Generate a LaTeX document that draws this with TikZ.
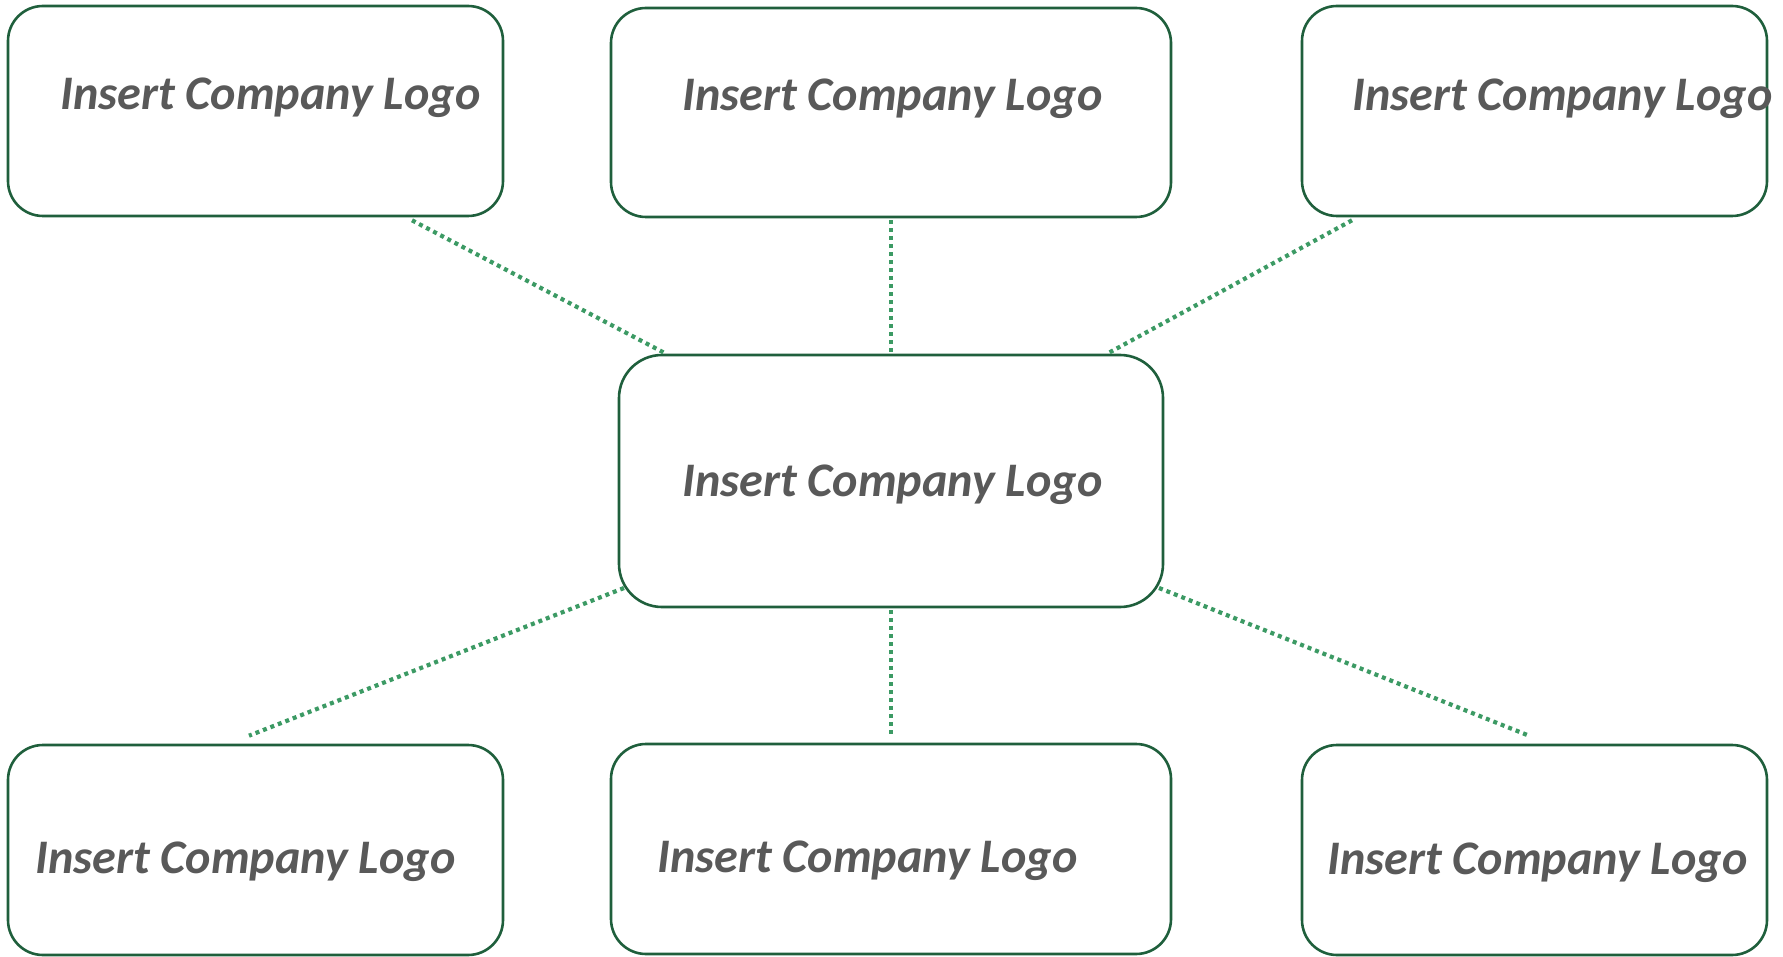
\documentclass[tikz,border=0pt]{standalone}
\usepackage{fontspec}
\setmainfont{Carlito}
\usetikzlibrary{calc}
\definecolor{boxline}{HTML}{1F5F3C}
\definecolor{linkgreen}{HTML}{3C9A64}
\definecolor{logotext}{HTML}{595959}
\tikzset{
  box/.style={draw=boxline, line width=2.6pt, fill=white, inner sep=0pt},
  logo/.style={anchor=base west, inner sep=0pt, text=logotext,
               font=\fontsize{48.2}{58}\selectfont\bfseries\itshape},
  link/.style={draw=linkgreen, line width=4.2pt, dash pattern=on 4pt off 4pt},
}
\begin{document}
\begin{tikzpicture}[x=1pt, y=-1pt]
  \useasboundingbox (0,0) rectangle (1783,957);

  % boxes
  \node[box, minimum width=495pt, minimum height=210pt, rounded corners=35pt] (tl)  at (255.5,111) {};
  \node[box, minimum width=560pt, minimum height=209pt, rounded corners=35pt] (tm)  at (891,112.5) {};
  \node[box, minimum width=465pt, minimum height=210pt, rounded corners=35pt] (tr)  at (1534.5,111) {};
  \node[box, minimum width=544pt, minimum height=252pt, rounded corners=43pt] (ctr) at (891,481) {};
  \node[box, minimum width=495pt, minimum height=210pt, rounded corners=35pt] (bl)  at (255.5,850) {};
  \node[box, minimum width=560pt, minimum height=210pt, rounded corners=35pt] (bm)  at (891,849) {};
  \node[box, minimum width=465pt, minimum height=210pt, rounded corners=35pt] (br)  at (1534.5,850) {};

  % labels
  \node[logo] (tltext)  at (60,110)   {Insert Company Logo};
  \node[logo] (tmtext)  at (682,111)  {Insert Company Logo};
  \node[logo] (trtext)  at (1352,111) {Insert Company Logo};
  \node[logo] (ctrtext) at (682,496)  {Insert Company Logo};
  \node[logo] (bltext)  at (35,873)   {Insert Company Logo};
  \node[logo] (bmtext)  at (657,872)  {Insert Company Logo};
  \node[logo] (brtext)  at (1327,874) {Insert Company Logo};

  % dotted connectors
  \draw[link] ($(tl.south)+(156.5,3)$)  -- ($(ctr.north)+(-227,-1)$);
  \draw[link] ($(tm.south)+(0,2)$)      -- ($(ctr.north)+(0,-1)$);
  \draw[link] ($(tr.south)+(-182.5,3)$) -- ($(ctr.north)+(218,-1)$);
  \draw[link] ($(ctr.center)+(-267,107)$) -- ($(bl.north)+(-6.5,-8)$);
  \draw[link] ($(ctr.south)+(0,2)$)     -- ($(bm.north)+(0,-7)$);
  \draw[link] ($(ctr.center)+(268,107)$)  -- ($(br.north)+(-5.5,-8)$);
\end{tikzpicture}
\end{document}
